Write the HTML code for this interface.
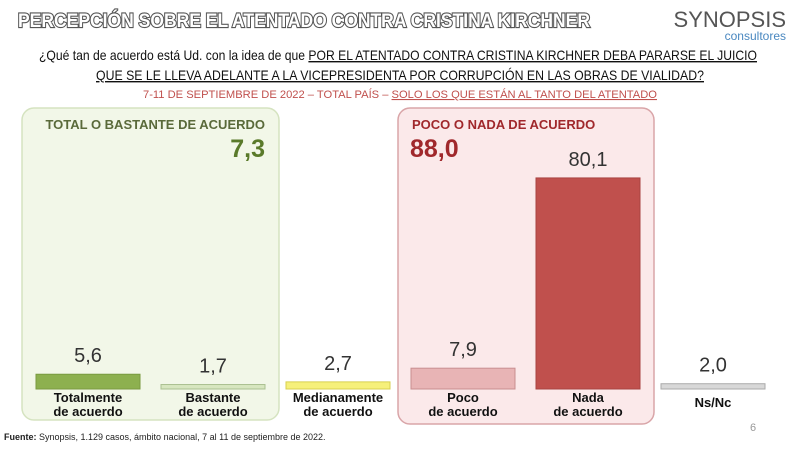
<!DOCTYPE html>
<html><head><meta charset="utf-8"><style>
body{margin:0;background:#fff;width:800px;height:447px;overflow:hidden;font-family:"Liberation Sans Narrow","Liberation Sans",sans-serif}
</style></head><body>
<svg width="800" height="447" viewBox="0 0 800 447" xmlns="http://www.w3.org/2000/svg">
<text x="18" y="27" font-size="19" font-weight="bold" fill="#fff" stroke="#555" stroke-width="2.2" paint-order="stroke" textLength="572" lengthAdjust="spacingAndGlyphs">PERCEPCIÓN SOBRE EL ATENTADO CONTRA CRISTINA KIRCHNER</text>
<text x="786" y="27" font-size="22" fill="#555" text-anchor="end">SYNOPSIS</text>
<text x="786" y="40" font-size="12" fill="#4a88c0" text-anchor="end">consultores</text>
<text x="398" y="60" font-size="14" fill="#111" text-anchor="middle" textLength="718" lengthAdjust="spacingAndGlyphs">¿Qué tan de acuerdo está Ud. con la idea de que <tspan text-decoration="underline">POR EL ATENTADO CONTRA CRISTINA KIRCHNER DEBA PARARSE EL JUICIO</tspan></text>
<text x="400" y="80" font-size="14" fill="#111" text-anchor="middle" text-decoration="underline" textLength="608" lengthAdjust="spacingAndGlyphs">QUE SE LE LLEVA ADELANTE A LA VICEPRESIDENTA POR CORRUPCIÓN EN LAS OBRAS DE VIALIDAD?</text>
<text x="400" y="98" font-size="11" fill="#c0504d" text-anchor="middle" textLength="514" lengthAdjust="spacingAndGlyphs">7-11 DE SEPTIEMBRE DE 2022 – TOTAL PAÍS – <tspan text-decoration="underline">SOLO LOS QUE ESTÁN AL TANTO DEL ATENTADO</tspan></text>
<rect x="22" y="108" width="257" height="312" rx="12" fill="#f2f7e8" stroke="#d5e3c0" stroke-width="1.5"/>
<rect x="398" y="108" width="256" height="316" rx="12" fill="#fbe9ea" stroke="#d9a5a8" stroke-width="1.5"/>
<text x="265" y="129" font-size="13" font-weight="bold" fill="#5a6a3a" text-anchor="end">TOTAL O BASTANTE DE ACUERDO</text>
<text x="265" y="157" font-size="25" font-weight="bold" fill="#5a7a2a" text-anchor="end">7,3</text>
<text x="412" y="129" font-size="13" font-weight="bold" fill="#a0282c">POCO O NADA DE ACUERDO</text>
<text x="410" y="157" font-size="25" font-weight="bold" fill="#a0282c">88,0</text>
<g id="bars"></g>
<text x="4" y="440" font-size="9" fill="#222"><tspan font-weight="bold">Fuente:</tspan> Synopsis, 1.129 casos, ámbito nacional, 7 al 11 de septiembre de 2022.</text>
<text x="750" y="431" font-size="11" fill="#999">6</text>
</svg>
<script>
const categories=[["Totalmente","de acuerdo"],["Bastante","de acuerdo"],["Medianamente","de acuerdo"],["Poco","de acuerdo"],["Nada","de acuerdo"],["Ns/Nc"]];
const values=[5.6,1.7,2.7,7.9,80.1,2.0];
const valueLabels=["5,6","1,7","2,7","7,9","80,1","2,0"];
const fills=["#8db04f","#d7e6bf","#f6f07a","#e8b4b5","#c0504d","#d8d8d8"];
const strokes=["#7a9a40","#aac090","#d8cf50","#c98e90","#a94341","#aaa"];
const base=389, scale=2.635, x0=36, step=125, bw=104;
const yPos=v=>base-Math.max(v*scale,4);
const xPos=i=>x0+i*step;
const g=document.getElementById('bars');
const NS="http://www.w3.org/2000/svg";
values.forEach((v,i)=>{
 const r=document.createElementNS(NS,'rect');
 
 
 const y=yPos(v);
 r.setAttribute('x',xPos(i));r.setAttribute('y',y);r.setAttribute('width',bw);r.setAttribute('height',base-y);
 r.setAttribute('fill',fills[i]);r.setAttribute('stroke',strokes[i]);
 g.appendChild(r);
 const t=document.createElementNS(NS,'text');
 
 
 t.setAttribute('x',xPos(i)+bw/2);t.setAttribute('y',y-12);
 t.setAttribute('text-anchor','middle');t.setAttribute('font-size','20');t.setAttribute('fill','#333');
 t.textContent=valueLabels[i];g.appendChild(t);
 categories[i].forEach((line,j)=>{
  const c=document.createElementNS(NS,'text');
  
  
  c.setAttribute('x',xPos(i)+bw/2);c.setAttribute('y',(categories[i].length===1?407:402)+j*14);
  c.setAttribute('text-anchor','middle');c.setAttribute('font-size','13');c.setAttribute('font-weight','bold');c.setAttribute('fill','#111');
  c.textContent=line;g.appendChild(c);
 });
});
</script>
</body></html>
